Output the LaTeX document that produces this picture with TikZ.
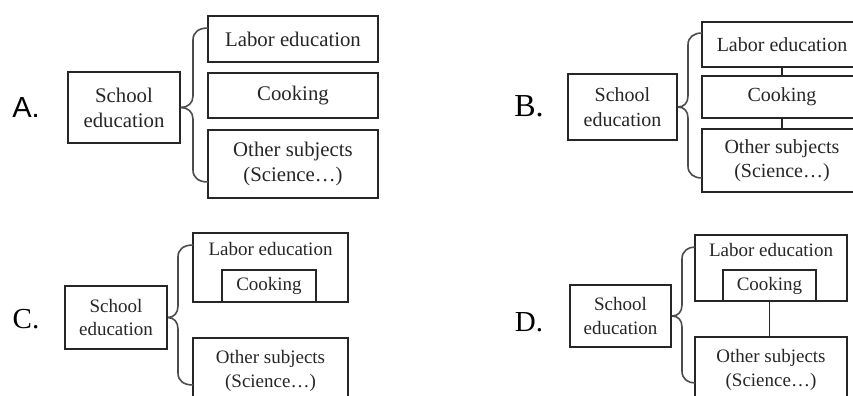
\documentclass[tikz,border=0pt]{standalone}
\usepackage{fontspec}
\setmainfont{Liberation Serif}
\newfontfamily\labsans{Liberation Sans}
\begin{document}
\begin{tikzpicture}[x=0.5pt,y=-0.5pt,
  box/.style={draw=black!85, line width=0.9pt, inner sep=0pt, align=center, text=black!85},
  br/.style={draw=black!70, line width=0.8pt},
  lk/.style={draw=black!85, line width=0.9pt},
  lab/.style={text=black, inner sep=0pt},
  inlab/.style={anchor=center, inner sep=0pt, text=black!85}]
\useasboundingbox (0,0) rectangle (853,396);
\clip (0,0) rectangle (853,396);

% ---------- Panel A ----------
\begin{scope}[every node/.append style={font=\fontsize{10.4}{12.5}\selectfont}]
\node[lab, font=\labsans\fontsize{14.5}{14}\selectfont] (la) at (26,108) {A.};
\node[box, minimum width=56pt, minimum height=35.5pt] (SA) at (124,107.5) {School\\education};
\node[box, minimum width=85pt, minimum height=23pt] (LA) at (293,39) {Labor education};
\node[box, minimum width=85pt, minimum height=22.5pt] (CA) at (293,95.5) {Cooking};
\node[box, minimum width=85pt, minimum height=34pt] (OA) at (293,164) {Other subjects\\(Science\ldots)};
\coordinate (A1) at (208,28);
\coordinate (A2) at (208,182);
\draw[br] (SA.east) .. controls (188,107.5) and (193,103) .. (193,96) -- (193,40) .. controls (193,32) and (199,28) .. (A1);
\draw[br] (SA.east) .. controls (188,107.5) and (193,112) .. (193,119) -- (193,170) .. controls (193,178) and (199,182) .. (A2);
\end{scope}

% ---------- Panel B ----------
\begin{scope}[every node/.append style={font=\fontsize{10}{12.2}\selectfont}]
\node[lab, font=\fontsize{16}{16}\selectfont] (lb) at (529,106) {B.};
\node[box, minimum width=54.5pt, minimum height=33pt] (SB) at (622.5,107) {School\\education};
\node[box, minimum width=80pt, minimum height=22.5pt] (LB) at (782,44.5) {Labor education};
\node[box, minimum width=80pt, minimum height=21pt] (CB) at (782,97) {Cooking};
\node[box, minimum width=80pt, minimum height=31.5pt] (OB) at (782,160.5) {Other subjects\\(Science\ldots)};
\draw[lk] (LB.south) -- (CB.north);
\draw[lk] (CB.south) -- (OB.north);
\coordinate (B1) at (702,33);
\coordinate (B2) at (702,178);
\draw[br] (SB.east) .. controls (684,107) and (688,103) .. (688,96) -- (688,45) .. controls (688,37) and (694,33) .. (B1);
\draw[br] (SB.east) .. controls (684,107) and (688,111) .. (688,118) -- (688,166) .. controls (688,174) and (694,178) .. (B2);
\end{scope}

% ---------- Panel C ----------
\begin{scope}[every node/.append style={font=\fontsize{9.5}{11.6}\selectfont}]
\node[lab, font=\fontsize{14.5}{14}\selectfont] (lc) at (26,319) {C.};
\node[box, minimum width=51pt, minimum height=31.5pt] (SC) at (116,317.5) {School\\education};
\node[box, minimum width=77.5pt, minimum height=34.5pt,
      label={[inlab, yshift=-8.5pt]north:Labor education}] (LC) at (270.5,267.5) {};
\node[box, minimum width=47pt, minimum height=16pt] (CC) at (269,286) {Cooking};
\node[box, minimum width=77.5pt, minimum height=33pt] (OC) at (270.5,371) {Other subjects\\(Science\ldots)};
\coordinate (C1) at (193,245);
\coordinate (C2) at (193,385);
\draw[br] (SC.east) .. controls (174,317.5) and (178,313) .. (178,306) -- (178,257) .. controls (178,249) and (184,245) .. (C1);
\draw[br] (SC.east) .. controls (174,317.5) and (178,322) .. (178,329) -- (178,373) .. controls (178,381) and (184,385) .. (C2);
\end{scope}

% ---------- Panel D ----------
\begin{scope}[every node/.append style={font=\fontsize{9.5}{11.6}\selectfont}]
\node[lab, font=\fontsize{14.5}{14}\selectfont] (ld) at (529,322) {D.};
\node[box, minimum width=50.5pt, minimum height=31pt] (SD) at (620.5,316) {School\\education};
\node[box, minimum width=76pt, minimum height=33pt,
      label={[inlab, yshift=-8pt]north:Labor education}] (LD) at (771,268) {};
\node[box, minimum width=46.5pt, minimum height=15.5pt] (CD) at (769.5,285.5) {Cooking};
\node[box, minimum width=76pt, minimum height=33pt] (OD) at (771,370) {Other subjects\\(Science\ldots)};
\draw[lk] (CD.south) -- (CD.south |- OD.north);
\coordinate (D1) at (695,247);
\coordinate (D2) at (695,383);
\draw[br] (SD.east) .. controls (678,316) and (682,312) .. (682,305) -- (682,259) .. controls (682,251) and (688,247) .. (D1);
\draw[br] (SD.east) .. controls (678,316) and (682,320) .. (682,327) -- (682,371) .. controls (682,379) and (688,383) .. (D2);
\end{scope}
\end{tikzpicture}
\end{document}
